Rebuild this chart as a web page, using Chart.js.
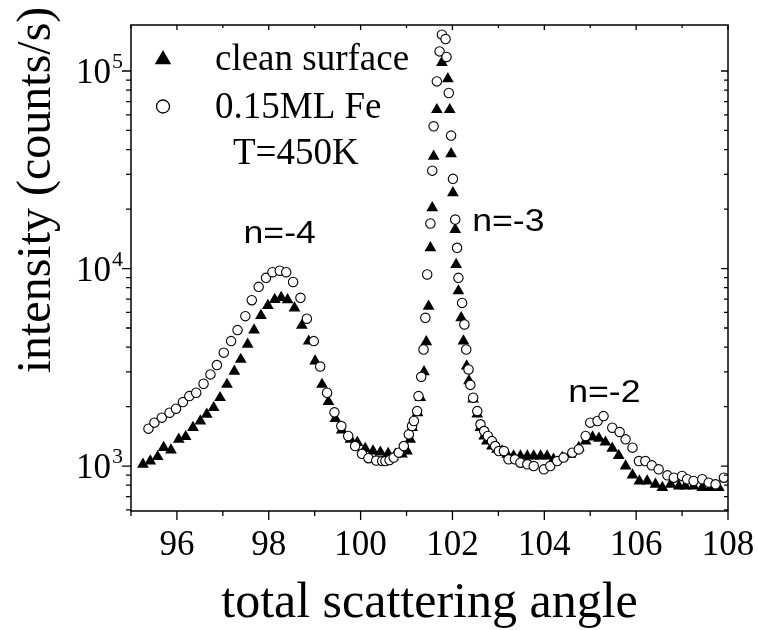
<!DOCTYPE html>
<html>
<head>
<meta charset="utf-8">
<script src="https://cdn.jsdelivr.net/npm/chart.js@4/dist/chart.umd.min.js"></script>
<style>
  html, body { margin: 0; padding: 0; background: #fff; }
  canvas { display: block; }
</style>
</head>
<body>
<canvas id="chart" width="758" height="630"></canvas>
<script>
// --- Data ---
const cleanAngle = [
  95.26, 95.42, 95.58, 95.71, 95.87, 96.04, 96.19, 96.35, 96.51, 96.65,
  96.80, 96.94, 97.09, 97.25, 97.39, 97.54, 97.68, 97.83, 97.98, 98.13,
  98.27, 98.41, 98.56, 98.72, 98.87, 99.01, 99.16, 99.30, 99.45, 99.59,
  99.78, 99.93, 100.10, 100.27, 100.43, 100.60, 100.76, 100.90, 101.01, 101.08,
  101.12, 101.24, 101.30, 101.38, 101.43, 101.48, 101.52, 101.56, 101.59, 101.66,
  101.77, 101.90, 101.94, 101.97, 102.01, 102.06, 102.08, 102.13, 102.19, 102.24,
  102.31, 102.36, 102.45, 102.54, 102.61, 102.69, 102.75, 102.86, 102.97, 103.08,
  103.19, 103.33, 103.48, 103.63, 103.77, 103.92, 104.06, 104.20, 104.39, 104.57,
  104.75, 104.90, 105.05, 105.19, 105.33, 105.48, 105.62, 105.77, 105.92, 106.07,
  106.24, 106.42, 106.57, 106.75, 106.93, 107.07, 107.25, 107.44, 107.62, 107.80
];
const cleanCounts = [
  1020, 1060, 1115, 1240, 1205, 1365, 1408, 1565, 1690, 1827,
  1974, 2218, 2588, 3020, 3465, 4130, 4877, 5780, 6500, 6970,
  7130, 6940, 6300, 5150, 4285, 3396, 2588, 2120, 1740, 1520,
  1365, 1313, 1225, 1191, 1175, 1155, 1145, 1150, 1191, 1365,
  1563, 1860, 2218, 3000, 4250, 6440, 12730, 20280, 37000, 63700,
  110300, 91200, 63700, 38050, 24170, 15750, 10480, 7700, 5630, 4290,
  3205, 2700, 2180, 1830, 1563, 1419, 1337, 1262, 1214, 1191,
  1146, 1124, 1124, 1124, 1124, 1124, 1124, 1081, 1103, 1146,
  1239, 1337, 1400, 1380, 1320, 1230, 1130, 1000, 900, 840,
  840, 808, 778, 808, 792, 792, 792, 778, 778, 778
];

const feAngle = [
  95.38, 95.51, 95.67, 95.84, 95.98, 96.13, 96.27, 96.42, 96.58, 96.73,
  96.87, 97.02, 97.18, 97.32, 97.49, 97.63, 97.78, 97.94, 98.08, 98.24,
  98.38, 98.53, 98.69, 98.83, 98.98, 99.12, 99.27, 99.43, 99.58, 99.73,
  99.88, 100.03, 100.17, 100.34, 100.47, 100.54, 100.63, 100.72, 100.83, 100.94,
  101.05, 101.12, 101.16, 101.23, 101.26, 101.32, 101.37, 101.41, 101.45, 101.52,
  101.56, 101.59, 101.66, 101.72, 101.77, 101.85, 101.87, 101.92, 101.97, 102.01,
  102.06, 102.10, 102.13, 102.21, 102.26, 102.30, 102.35, 102.39, 102.45, 102.54,
  102.61, 102.69, 102.77, 102.86, 102.93, 103.01, 103.12, 103.22, 103.36, 103.48,
  103.63, 103.77, 103.99, 104.13, 104.28, 104.42, 104.61, 104.75, 104.90, 105.00,
  105.16, 105.29, 105.48, 105.64, 105.77, 105.92, 106.06, 106.20, 106.34, 106.49,
  106.68, 106.82, 107.00, 107.11, 107.25, 107.44, 107.58, 107.73, 107.91
];
const feCounts = [
  1546, 1658, 1758, 1862, 1951, 2107, 2260, 2350, 2610, 2910,
  3245, 3750, 4290, 4877, 5740, 6914, 8075, 8970, 9580, 9750,
  9580, 8550, 7110, 5570, 4290, 3190, 2350, 1870, 1594, 1419,
  1262, 1153, 1096, 1066, 1060, 1060, 1072, 1103, 1169, 1262,
  1446, 1594, 1690, 1897, 2260, 2830, 3890, 5630, 9330, 16900,
  31300, 52500, 88600, 125700, 152800, 145200, 117800, 77400, 47100, 28450,
  17700, 12730, 8970, 6700, 5210, 3890, 3083, 2575, 2218, 1897,
  1626, 1503, 1419, 1337, 1262, 1191, 1191, 1081, 1081, 1040,
  1020, 1000, 962, 1000, 1060, 1103, 1169, 1214, 1419, 1658,
  1690, 1790, 1563, 1486, 1365, 1239, 1060, 1060, 1008, 962,
  897, 873, 891, 857, 840, 857, 824, 808, 873
];

const xTickValues = [96, 98, 100, 102, 104, 106, 108];
const yDecadeExps = [3, 4, 5];
const seriesNames = ["clean surface", "0.15ML Fe"];
const peakNames = ["n=-4", "n=-3", "n=-2"];

const toPoints = (xs, ys) => xs.map((x, i) => ({ x: x, y: ys[i] }));

// --- Frame, ticks and all text ---
const frameAndText = {
  id: "frameAndText",
  afterDraw(chart) {
    const { ctx, chartArea: a, scales } = chart;
    const x = scales.x, y = scales.y;
    ctx.save();
    ctx.strokeStyle = "#000";
    ctx.fillStyle = "#000";

    ctx.lineWidth = 1.5;
    ctx.strokeRect(a.left, a.top, a.right - a.left, a.bottom - a.top);

    ctx.lineWidth = 1.3;
    ctx.beginPath();
    for (let v = Math.ceil(x.min); v <= x.max; v++) {
      const px = x.getPixelForValue(v);
      const major = v % 2 === 0;
      ctx.moveTo(px, a.bottom); ctx.lineTo(px, a.bottom + (major ? 9 : 5));
      ctx.moveTo(px, a.top); ctx.lineTo(px, a.top + (major ? 5 : 3));
    }
    for (let e = 2; e <= 5; e++) {
      for (let k = 1; k <= 9; k++) {
        const v = k * Math.pow(10, e);
        if (v < y.min || v > y.max) continue;
        const py = y.getPixelForValue(v);
        const major = k === 1;
        ctx.moveTo(a.left, py); ctx.lineTo(a.left - (major ? 9 : 5), py);
        ctx.moveTo(a.right, py); ctx.lineTo(a.right - (major ? 7 : 4), py);
      }
    }
    ctx.stroke();

    // tick labels
    ctx.textBaseline = "alphabetic";
    ctx.textAlign = "center";
    ctx.font = '35px "Liberation Serif"';
    xTickValues.forEach(v => ctx.fillText(String(v), x.getPixelForValue(v), 555));

    yDecadeExps.forEach(e => {
      const py = y.getPixelForValue(Math.pow(10, e));
      ctx.textAlign = "right";
      ctx.font = '35px "Liberation Serif"';
      ctx.fillText("10", 111, py + 12);
      ctx.textAlign = "left";
      ctx.font = '22px "Liberation Serif"';
      ctx.fillText(String(e), 112, py - 3);
    });

    // axis titles
    ctx.textAlign = "center";
    ctx.font = '50px "Liberation Serif"';
    ctx.fillText("total scattering angle", (a.left + a.right) / 2, 617);
    ctx.save();
    ctx.translate(50, 190);
    ctx.rotate(-Math.PI / 2);
    ctx.font = '48px "Liberation Serif"';
    ctx.fillText("intensity (counts/s)", 0, 0);
    ctx.restore();

    // legend
    const r = 9.5, lx = 163, ly = 59.5;
    ctx.beginPath();
    ctx.moveTo(lx, ly - r);
    ctx.lineTo(lx + r * Math.sin(2 * Math.PI / 3), ly - r * Math.cos(2 * Math.PI / 3));
    ctx.lineTo(lx - r * Math.sin(2 * Math.PI / 3), ly - r * Math.cos(2 * Math.PI / 3));
    ctx.closePath();
    ctx.fill();
    ctx.beginPath();
    ctx.lineWidth = 1.3;
    ctx.arc(163, 106.5, 6.5, 0, Math.PI * 2);
    ctx.stroke();

    ctx.textAlign = "left";
    ctx.font = '37px "Liberation Serif"';
    ctx.fillText(seriesNames[0], 215, 70);
    ctx.fillText(seriesNames[1], 215, 118);
    ctx.fillText("T=450K", 233, 164);

    // peak labels
    const spots = [[97.45, 13500], [102.43, 15560], [104.52, 2120]];
    ctx.font = '31px "Liberation Sans"';
    peakNames.forEach((txt, i) => {
      ctx.save();
      ctx.translate(x.getPixelForValue(spots[i][0]), y.getPixelForValue(spots[i][1]));
      ctx.scale(1.15, 1);
      ctx.fillText(txt, 0, 0);
      ctx.restore();
    });

    ctx.restore();
  }
};

new Chart(document.getElementById("chart").getContext("2d"), {
  type: "scatter",
  data: {
    datasets: [
      {
        label: seriesNames[1],
        data: toPoints(feAngle, feCounts),
        pointStyle: "circle",
        pointRadius: 4.7,
        backgroundColor: "#fff",
        borderColor: "#000",
        borderWidth: 1.1,
        order: 0
      },
      {
        label: seriesNames[0],
        data: toPoints(cleanAngle, cleanCounts),
        pointStyle: "triangle",
        pointRadius: 6.8,
        backgroundColor: "#000",
        borderColor: "#000",
        borderWidth: 0,
        order: 1
      }
    ]
  },
  options: {
    responsive: false,
    animation: false,
    devicePixelRatio: 1,
    events: [],
    layout: { padding: { left: 131, right: 30, top: 25, bottom: 119 } },
    plugins: { legend: { display: false }, tooltip: { enabled: false } },
    scales: {
      x: { type: "linear", min: 95, max: 108, display: false },
      y: { type: "logarithmic", min: 592, max: 171000, display: false }
    }
  },
  plugins: [frameAndText]
});
</script>
</body>
</html>
